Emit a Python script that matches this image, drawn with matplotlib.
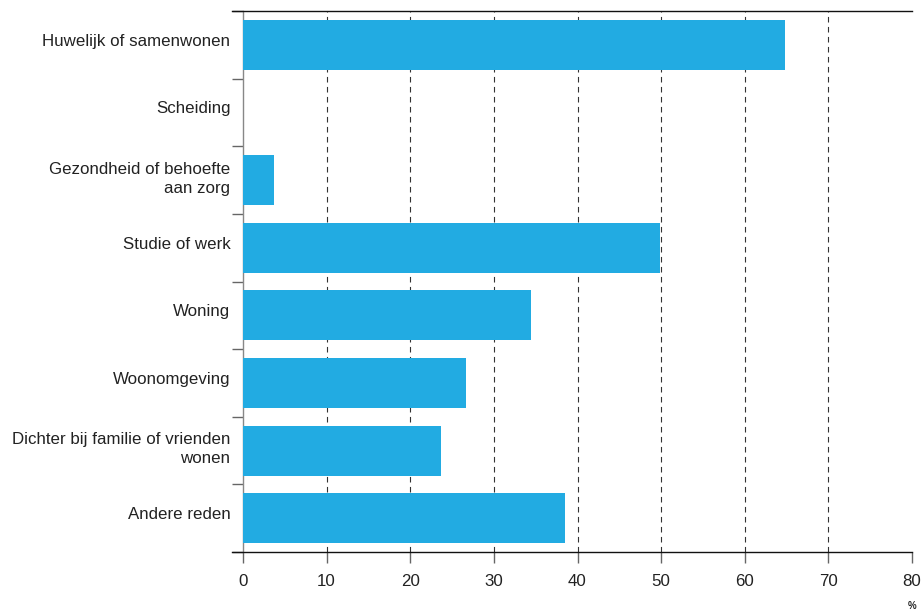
import matplotlib
matplotlib.use("Agg")
import matplotlib.pyplot as plt
import matplotlib.transforms as mtransforms
import numpy as np

categories = [
    "Huwelijk of samenwonen",
    "Scheiding",
    "Gezondheid of behoefte\naan zorg",
    "Studie of werk",
    "Woning",
    "Woonomgeving",
    "Dichter bij familie of vrienden\nwonen",
    "Andere reden",
]
values = [64.8, 0.0, 3.7, 49.9, 34.4, 26.7, 23.7, 38.5]
xticks = [0, 10, 20, 30, 40, 50, 60, 70, 80]

plt.rcParams['font.family'] = ['Liberation Sans', 'DejaVu Sans']

fig = plt.figure(figsize=(9.24, 6.13), dpi=100)
ax = fig.add_axes([243/924, 1-552/613, (912-243)/924, (552-11)/613])

y = np.arange(len(categories))
ax.barh(y, values, height=0.74, color="#22ABE2", zorder=3)

ax.set_xlim(0, 80)
ax.set_ylim(len(categories)-0.5, -0.5)

ax.set_xticks(xticks)
ax.set_xticklabels([str(t) for t in xticks], fontsize=12.2, color="#222222")
ax.tick_params(axis='x', length=8, width=1, color="#666666", pad=8)

ax.set_yticks(y)
ax.set_yticklabels(categories, fontsize=12.2, color="#222222", ha='right',
                   multialignment='right', linespacing=1.35)
ax.tick_params(axis='y', which='major', length=0, pad=9)
ax.set_yticks(np.arange(-0.5, len(categories)), minor=True)
ax.tick_params(axis='y', which='minor', length=8, width=1, color="#666666")

offset = mtransforms.ScaledTranslation(0, 5/100, fig.dpi_scale_trans)
for lbl in ax.get_yticklabels():
    lbl.set_transform(lbl.get_transform() + offset)

for t in xticks[1:-1]:
    ax.axvline(t, color="#333333", lw=0.8, dashes=(5, 4), zorder=1)

ax.spines['right'].set_visible(False)
ax.spines['left'].set_color("#888888")
ax.spines['left'].set_linewidth(1)
ax.spines['top'].set_visible(False)
ax.spines['bottom'].set_visible(False)
ax.axhline(-0.5, xmin=-0.016, xmax=1.0, color="#111111", lw=1, clip_on=False, zorder=4)
ax.axhline(len(categories)-0.5, xmin=-0.016, xmax=1.0, color="#111111", lw=1, clip_on=False, zorder=4)

fig.text(912/924, 1-606/613, "%", fontsize=7, fontweight='bold', ha='center', va='center', color="#222222")

fig.savefig("out.png", dpi=100)
